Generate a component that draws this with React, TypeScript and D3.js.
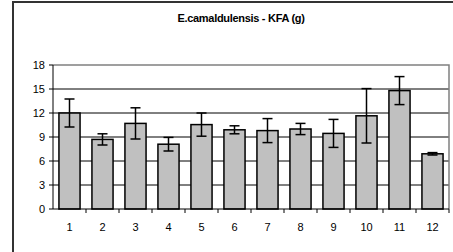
import React from "react";
import * as d3 from "d3";

const categories = ["1", "2", "3", "4", "5", "6", "7", "8", "9", "10", "11", "12"];
const means = [12.0, 8.7, 10.7, 8.1, 10.55, 9.9, 9.8, 10.0, 9.45, 11.65, 14.8, 6.9];
const errors = [1.75, 0.7, 1.95, 0.85, 1.45, 0.5, 1.5, 0.7, 1.75, 3.4, 1.75, 0.15];
const yTicks = [0, 3, 6, 9, 12, 15, 18];
const title = "E.camaldulensis - KFA (g)";

const W = 453;
const H = 252;
const plot = { left: 53, right: 449, top: 65, bottom: 209 };
const font = "Arial, 'Liberation Sans', sans-serif";

export default function App() {
  const x = d3
    .scaleBand<string>()
    .domain(categories)
    .range([plot.left, plot.right])
    .paddingInner(0.36)
    .paddingOuter(0.18);
  const band = d3.scaleBand<string>().domain(categories).range([plot.left, plot.right]);
  const y = d3.scaleLinear().domain([0, 18]).range([plot.bottom, plot.top]);

  const cap = 5;

  return (
    <svg
      width={W}
      height={H}
      style={{ position: "absolute", left: 0, top: 0, background: "#fff" }}
    >
      {/* chart frame, cut off at right and bottom */}
      <rect x={13} y={2} width={W} height={H} fill="#fff" stroke="#333" strokeWidth={2} />

      <text
        x={241}
        y={22}
        textAnchor="middle"
        fontFamily={font}
        fontWeight="bold"
        fontSize={11}
        letterSpacing={-0.3}
        fill="#000"
      >
        {title}
      </text>

      {/* gridlines */}
      {yTicks.slice(1, -1).map((t) => (
        <line key={t} x1={plot.left} x2={plot.right} y1={y(t)} y2={y(t)} stroke="#000" strokeWidth={1} />
      ))}
      {/* plot border top/right */}
      <path
        d={`M${plot.left},${y(18)}H${plot.right}V${plot.bottom}`}
        fill="none"
        stroke="#808080"
        strokeWidth={1.5}
      />

      {/* bars */}
      {categories.map((c, i) => (
        <rect
          key={c}
          x={x(c)}
          y={y(means[i])}
          width={x.bandwidth()}
          height={plot.bottom - y(means[i])}
          fill="#c0c0c0"
          stroke="#000"
          strokeWidth={1.5}
        />
      ))}

      {/* error bars */}
      {categories.map((c, i) => {
        const cx = (x(c) ?? 0) + x.bandwidth() / 2;
        const hi = y(means[i] + errors[i]);
        const lo = y(means[i] - errors[i]);
        return (
          <g key={c} stroke="#000" strokeWidth={1.5}>
            <line x1={cx} x2={cx} y1={hi} y2={lo} />
            <line x1={cx - cap} x2={cx + cap} y1={hi} y2={hi} />
            <line x1={cx - cap} x2={cx + cap} y1={lo} y2={lo} />
          </g>
        );
      })}

      {/* y axis */}
      <line x1={plot.left} x2={plot.left} y1={plot.top} y2={plot.bottom} stroke="#000" strokeWidth={1} />
      {yTicks.map((t) => (
        <g key={t}>
          <line x1={plot.left - 4} x2={plot.left} y1={y(t)} y2={y(t)} stroke="#000" />
          <text
            x={plot.left - 8}
            y={y(t)}
            dy="0.35em"
            textAnchor="end"
            fontFamily={font}
            fontSize={11}
            fill="#000"
          >
            {t}
          </text>
        </g>
      ))}

      {/* x axis */}
      <line x1={plot.left} x2={plot.right} y1={plot.bottom} y2={plot.bottom} stroke="#000" strokeWidth={1} />
      {categories.map((c, i) => (
        <g key={c}>
          <line
            x1={(band(c) ?? 0) + band.bandwidth()}
            x2={(band(c) ?? 0) + band.bandwidth()}
            y1={plot.bottom}
            y2={plot.bottom + 4}
            stroke="#000"
          />
          <text
            x={(band(c) ?? 0) + band.bandwidth() / 2}
            y={227}
            dy="0.35em"
            textAnchor="middle"
            fontFamily={font}
            fontSize={11}
            fill="#000"
          >
            {c}
          </text>
        </g>
      ))}
    </svg>
  );
}
